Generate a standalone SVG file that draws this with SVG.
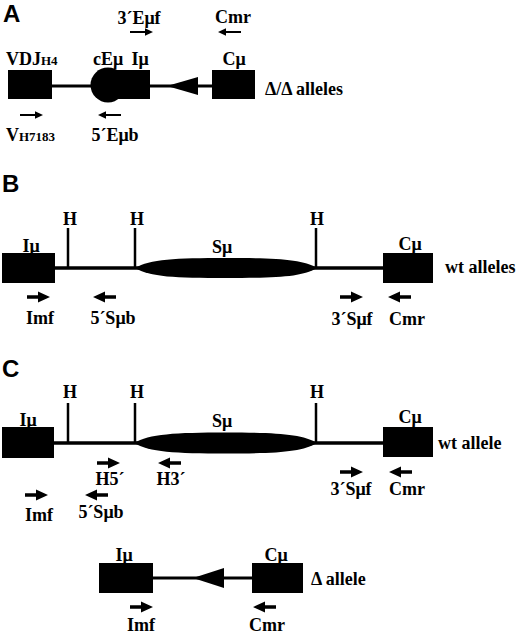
<svg xmlns="http://www.w3.org/2000/svg" xmlns:xlink="http://www.w3.org/1999/xlink" width="520" height="635" viewBox="0 0 520 635">
<style>
.t{font-family:"Liberation Serif","Times New Roman",serif;font-weight:bold;font-size:18px;fill:#000}
.c{text-anchor:middle}
.p{font-family:"Liberation Sans",Arial,sans-serif;font-weight:bold;font-size:24px;fill:#000}
.s{font-size:13px}
.ln{stroke:#000;stroke-width:3.5;fill:none}
.la{stroke:#000;stroke-width:3;fill:none}
.st{stroke:#000;stroke-width:2.5;fill:none}
.f{fill:#000}
</style>
<defs>
<path id="ra" d="M0,-1.1 H15 V-3.8 L23,0 L15,3.8 V1.1 H0 Z"/>
<path id="la" d="M23,-1.1 H8 V-3.8 L0,0 L8,3.8 V1.1 H23 Z"/>
<path id="rb" d="M0,-1.8 H11 V-5.5 L23,0 L11,5.5 V1.8 H0 Z"/>
<path id="lb" d="M23,-1.8 H12 V-5.5 L0,0 L12,5.5 V1.8 H23 Z"/>
</defs>
<rect width="520" height="635" fill="#fff"/>

<!-- Panel A -->
<text class="p" x="3" y="22">A</text>
<g id="connectorsA">
<line class="la" x1="52" y1="86" x2="212" y2="86"/>
</g>
<g id="A_VDJ">
<rect class="f" x="8" y="70" width="44" height="29"/>
<text class="t" x="6" y="65">VDJ<tspan class="s">H4</tspan></text>
</g>
<g id="A_Imu">
<rect class="f" x="110" y="70" width="40" height="29"/>
<text class="t c" x="140" y="65">Iμ</text>
</g>
<g id="A_cEmu">
<circle class="f" cx="108" cy="85" r="17.5"/>
<text class="t c" x="108" y="65">cEμ</text>
</g>
<g id="A_tri">
<polygon class="f" points="167,86 198,77 198,95"/>
</g>
<g id="A_Cmu">
<rect class="f" x="212" y="70" width="43" height="29"/>
<text class="t c" x="234" y="65">Cμ</text>
<text class="t" x="265" y="95">Δ/Δ alleles</text>
</g>
<g id="A_primers">
<use href="#ra" x="130" y="32"/>
<text class="t c" x="139" y="24">3´Eμf</text>
<use href="#la" x="218" y="32"/>
<text class="t c" x="233" y="23">Cmr</text>
<use href="#ra" x="20" y="115"/>
<text class="t" x="6" y="141">V<tspan class="s">H7183</tspan></text>
<use href="#la" x="98" y="115"/>
<text class="t c" x="115" y="141">5´Eμb</text>
</g>

<!-- Panel B -->
<text class="p" x="2" y="192">B</text>
<g id="connectorsB">
<line class="ln" x1="55" y1="268" x2="383" y2="268"/>
</g>
<g id="B_H">
<line class="st" x1="68" y1="228" x2="68" y2="268"/>
<line class="st" x1="135" y1="228" x2="135" y2="268"/>
<line class="st" x1="316" y1="228" x2="316" y2="268"/>
<text class="t c" x="70" y="225">H</text>
<text class="t c" x="137" y="225">H</text>
<text class="t c" x="317" y="225">H</text>
</g>
<g id="B_Imu">
<rect class="f" x="2" y="253" width="53" height="30"/>
<text class="t c" x="31" y="252">Iμ</text>
</g>
<g id="B_Smu">
<path class="f" d="M135,268 C150,259 175,258 226,258 C277,258 302,259 317,268 C302,277 277,278 226,278 C175,278 150,277 135,268Z"/>
<text class="t c" x="222" y="253">Sμ</text>
</g>
<g id="B_Cmu">
<rect class="f" x="383" y="253" width="50" height="30"/>
<text class="t c" x="410" y="250">Cμ</text>
<text class="t" x="445" y="273">wt alleles</text>
</g>
<g id="B_primers">
<use href="#rb" x="27" y="297"/>
<text class="t c" x="40" y="324">Imf</text>
<use href="#lb" x="93" y="297"/>
<text class="t c" x="113" y="324">5´Sμb</text>
<use href="#rb" x="340" y="297"/>
<text class="t c" x="352" y="325">3´Sμf</text>
<use href="#lb" x="388" y="297"/>
<text class="t c" x="407" y="325">Cmr</text>
</g>

<!-- Panel C -->
<text class="p" x="2" y="377">C</text>
<g id="connectorsC">
<line class="ln" x1="54" y1="443" x2="383" y2="443"/>
<line class="la" x1="153" y1="578" x2="252" y2="578"/>
</g>
<g id="C_H">
<line class="st" x1="68" y1="403" x2="68" y2="443"/>
<line class="st" x1="135" y1="403" x2="135" y2="443"/>
<line class="st" x1="316" y1="403" x2="316" y2="443"/>
<text class="t c" x="70" y="398">H</text>
<text class="t c" x="137" y="398">H</text>
<text class="t c" x="317" y="398">H</text>
</g>
<g id="C_Imu">
<rect class="f" x="2" y="427" width="52" height="31"/>
<text class="t c" x="28" y="426">Iμ</text>
</g>
<g id="C_Smu">
<path class="f" d="M134,443 C149,434 175,432.5 226,432.5 C277,432.5 302,434 317,443 C302,452 277,453.5 226,453.5 C175,453.5 149,452 134,443Z"/>
<text class="t c" x="222" y="427">Sμ</text>
</g>
<g id="C_Cmu">
<rect class="f" x="383" y="427" width="50" height="30"/>
<text class="t c" x="410" y="423">Cμ</text>
<text class="t" x="438" y="449">wt allele</text>
</g>
<g id="C_primers">
<use href="#rb" x="97" y="463"/>
<text class="t c" x="110" y="485">H5´</text>
<use href="#lb" x="158" y="463"/>
<text class="t c" x="171" y="485">H3´</text>
<use href="#rb" x="340" y="472"/>
<text class="t c" x="351" y="495">3´Sμf</text>
<use href="#lb" x="389" y="472"/>
<text class="t c" x="407" y="495">Cmr</text>
<use href="#rb" x="25" y="495"/>
<text class="t c" x="39" y="521">Imf</text>
<use href="#lb" x="85" y="495"/>
<text class="t c" x="101" y="518">5´Sμb</text>
</g>
<g id="D_Imu">
<rect class="f" x="99" y="563" width="54" height="30"/>
<text class="t c" x="124" y="561">Iμ</text>
</g>
<g id="D_tri">
<polygon class="f" points="193,578 224,568 224,588"/>
</g>
<g id="D_Cmu">
<rect class="f" x="252" y="563" width="51" height="30"/>
<text class="t c" x="276" y="561">Cμ</text>
<text class="t" x="311" y="585">Δ allele</text>
</g>
<g id="D_primers">
<use href="#rb" x="130" y="607"/>
<text class="t c" x="141" y="631">Imf</text>
<use href="#lb" x="253" y="607"/>
<text class="t c" x="267" y="631">Cmr</text>
</g>
</svg>
